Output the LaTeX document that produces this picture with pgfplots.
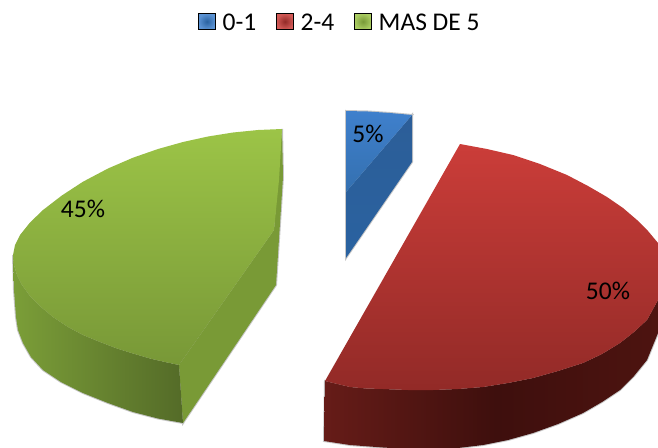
\documentclass[border=0pt]{standalone}
\usepackage{fontspec}
\setmainfont{Carlito}
\usepackage{pgfplots}
\usepackage{pgfplotstable}
\pgfplotsset{compat=1.18}

\definecolor{blue3a}{HTML}{3F80CC}
\definecolor{blue3b}{HTML}{2A62A0}
\definecolor{blue3c}{HTML}{3470B0}
\definecolor{blue3d}{HTML}{2C5E98}
\definecolor{red3a}{HTML}{661C18}
\definecolor{red3b}{HTML}{4E1410}
\definecolor{red3c}{HTML}{3E0F0D}
\definecolor{red3d}{HTML}{CB3D39}
\definecolor{red3e}{HTML}{922A27}
\definecolor{green3a}{HTML}{7B9E38}
\definecolor{green3b}{HTML}{546B28}
\definecolor{green3c}{HTML}{9CC447}
\definecolor{green3d}{HTML}{789837}
\definecolor{green3s}{HTML}{799A36}

% wedge outlines in pixels (y downwards)
\pgfplotstableread{
x y
346 111
368 111.5
390 113
412 115
346 192
}\bluetop
\pgfplotstableread{
x y
412 115
412 162
346 258
346 192
}\blueside
\pgfplotstableread{
x y
460 144
487 149
513 155
540 164
567 175
588 186
607 197
623 208
637 220
648 231
658 243
665 256
668 270
666 285
658 300
647 320
634 332
620 343
602 354
583 363
558 371
533 378
508 383
483 387
458 389
433 390
408 390
383 389
366 388.5
350 387
325 381
}\redtop
\pgfplotstableread{
x y
325 381
350 387
366 388.5
383 389
408 390
433 390
458 389
483 387
508 383
533 378
558 371
583 363
602 354
620 343
634 332
647 320
658 300
668 285
668 300
658 333
647 360
634 376
620 390
602 402
583 413
558 424
533 433
508 440
483 445
458 448
433 449
408 449
383 447.5
350 445
324 441
}\redside
\pgfplotstableread{
x y
282 129
258 130
233 132.5
208 136.5
183 142
158 149
133 157.7
108 168.5
83 181.7
62 195.4
43 210
30 222.5
20 235
15 245
13 255
14 265
17 275
22 285
30 296
41 307
53 317
68 327
83 335
100 342
117 348.5
133 353.5
150 358.5
165 362
179 365
274 230
279 180
}\greentop
\pgfplotstableread{
x y
13 255
14 265
17 275
22 285
30 296
41 307
53 317
68 327
83 335
100 342
117 348.5
133 353.5
150 358.5
165 362
179 365
183 423
158 418.5
133 412
108 403
83 393
61 382
43 370
31 357
23 343
18 330
16 317
14 290
}\greenfront
\pgfplotstableread{
x y
282 129
283 177
276 285
183 423
179 365
274 230
}\greenside

\begin{document}
\begin{tikzpicture}
\useasboundingbox (0,0) rectangle (658pt,447pt);
\begin{axis}[
    at={(0,0)},
    anchor=south west,
    width=658pt,
    height=447pt,
    scale only axis,
    xmin=0, xmax=658,
    ymin=0, ymax=447,
    y dir=reverse,
    hide axis,
    legend columns=-1,
    legend style={
        at={(axis cs:198,22.5)},
        anchor=west,
        draw=none,
        fill=none,
        font=\fontsize{25.5}{26}\selectfont,
        inner sep=0pt,
        /tikz/every odd column/.append style={column sep=5pt},
        /tikz/every even column/.append style={column sep=18pt}
    },
    legend image code/.code={
        \shade[#1] (0pt,-7pt) rectangle (17pt,9pt);
    }
]

% soft edge shadow
\addplot[forget plot, draw=black!22, line width=2pt, fill=none] table[x=x, y=y] {\bluetop} --cycle;
\addplot[forget plot, draw=black!22, line width=2pt, fill=none] table[x=x, y=y] {\blueside} --cycle;
\addplot[forget plot, draw=black!22, line width=2pt, fill=none] table[x=x, y=y] {\redside} --cycle;
\addplot[forget plot, draw=black!22, line width=2pt, fill=none] table[x=x, y=y] {\greenfront} --cycle;
\addplot[forget plot, draw=black!22, line width=2pt, fill=none] table[x=x, y=y] {\greenside} --cycle;

% blue wedge
\addplot[forget plot, draw=none, shade, top color=blue3d, bottom color=blue3b] table[x=x, y=y] {\blueside} --cycle;
\addplot[forget plot, draw=none, shade, top color=blue3a, bottom color=blue3c] table[x=x, y=y] {\bluetop} --cycle;

% red wedge
\addplot[forget plot, draw=none, shade, left color=red3a, right color=red3b, middle color=red3c] table[x=x, y=y] {\redside} --cycle;
\addplot[forget plot, draw=none, shade, top color=red3d, bottom color=red3e] table[x=x, y=y] {\redtop} --cycle;

% green wedge
\addplot[forget plot, draw=none, fill=green3s] table[x=x, y=y] {\greenside} --cycle;
\addplot[forget plot, draw=none, shade, left color=green3a, right color=green3b] table[x=x, y=y] {\greenfront} --cycle;
\addplot[forget plot, draw=none, shade, top color=green3c, bottom color=green3d] table[x=x, y=y] {\greentop} --cycle;

% legend entries
\addlegendimage{inner color=blue3b, outer color=blue3a!85!white}
\addlegendimage{inner color=red3e, outer color=red3d!85!white}
\addlegendimage{inner color=green3d, outer color=green3c!85!white}
\legend{0-1, 2-4, MAS DE 5}

\node[font=\fontsize{25.5}{26}\selectfont] at (axis cs:368,134) {5\%};
\node[font=\fontsize{25.5}{26}\selectfont] at (axis cs:608,291) {50\%};
\node[font=\fontsize{25.5}{26}\selectfont] at (axis cs:83,209) {45\%};

\end{axis}
\end{tikzpicture}
\end{document}
